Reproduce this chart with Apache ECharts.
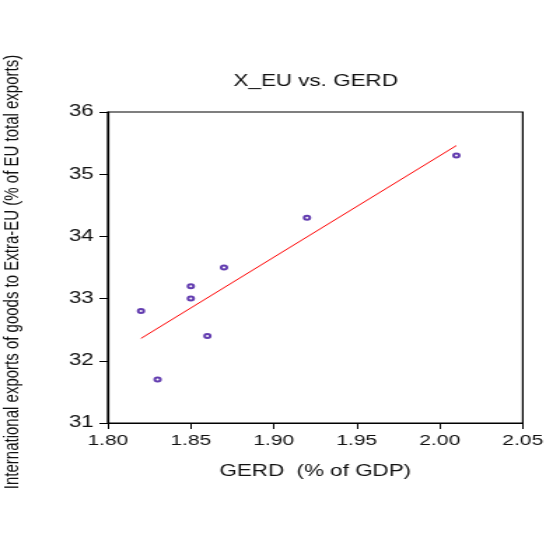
<!DOCTYPE html>
<html>
<head>
<meta charset="utf-8">
<script src="https://cdn.jsdelivr.net/npm/echarts@6/dist/echarts.min.js"></script>
<style>
  html, body { margin: 0; padding: 0; background: #fff; overflow: hidden; }
  /* the original EViews graph is stretched sideways, so draw narrow and widen it */
  #chart { width: 391.4px; height: 544px; transform: scaleX(1.4); transform-origin: 0 0; }
</style>
</head>
<body>
<div id="chart"></div>
<script>
const gerd = [1.82, 1.83, 1.85, 1.85, 1.86, 1.87, 1.92, 2.01];
const xEu = [32.8, 31.7, 33.2, 33.0, 32.4, 33.5, 34.3, 35.3];
// regression line ends
const fitX = [1.82, 2.01];
const fitY = [32.36, 35.46];
const xTickLabels = ["1.80", "1.85", "1.90", "1.95", "2.00", "2.05"];
const yTickLabels = ["31", "32", "33", "34", "35", "36"];

const font = "'Liberation Sans', Arial, sans-serif";
const points = gerd.map((g, i) => [g, xEu[i]]);
const fit = fitX.map((g, i) => [g, fitY[i]]);

const chart = echarts.init(document.getElementById("chart"));

chart.setOption({
  animation: false,
  backgroundColor: "#fff",
  grid: {
    left: 77,
    right: 16,
    top: 112,
    bottom: 121,
    show: true,
    borderColor: "#000",
    borderWidth: 1.2,
  },
  graphic: [
    {
      type: "text",
      x: 225.5,
      y: 82,
      style: {
        text: "X_EU vs. GERD",
        font: "16px " + font,
        fill: "#111",
        textAlign: "center",
        textVerticalAlign: "middle",
      },
    },
    {
      type: "text",
      x: 8.5,
      y: 272,
      rotation: Math.PI / 2,
      style: {
        text: "International exports of goods to Extra-EU (% of EU total exports)",
        font: "15px " + font,
        fill: "#111",
        textAlign: "center",
        textVerticalAlign: "middle",
      },
    },
  ],
  xAxis: {
    type: "value",
    min: 1.8,
    max: 2.05,
    interval: 0.05,
    name: "GERD  (% of GDP)",
    nameLocation: "middle",
    nameGap: 41,
    nameTextStyle: { fontFamily: font, fontSize: 16, color: "#111" },
    axisLine: { show: true, lineStyle: { color: "#000", width: 1.2 } },
    axisTick: { show: true, inside: false, length: 6, lineStyle: { color: "#000" } },
    axisLabel: {
      fontFamily: font,
      fontSize: 15,
      color: "#111",
      margin: 10,
      formatter: (v) => xTickLabels[Math.round((v - 1.8) / 0.05)],
    },
    splitLine: { show: false },
  },
  yAxis: {
    type: "value",
    min: 31,
    max: 36,
    interval: 1,
    axisLine: { show: true, lineStyle: { color: "#000", width: 1.2 } },
    axisTick: { show: true, inside: false, length: 6, lineStyle: { color: "#000" } },
    axisLabel: {
      fontFamily: font,
      fontSize: 16,
      color: "#111",
      margin: 10,
      formatter: (v) => yTickLabels[Math.round(v - 31)],
    },
    splitLine: { show: false },
  },
  series: [
    {
      name: "fit",
      type: "line",
      data: fit,
      symbol: "none",
      lineStyle: { color: "#ff0000", width: 1 },
      z: 2,
    },
    {
      name: "X_EU",
      type: "scatter",
      data: points,
      symbol: "emptyCircle",
      symbolSize: 4,
      itemStyle: { color: "#3c0c9c", borderWidth: 1 },
      z: 3,
    },
  ],
});
</script>
</body>
</html>
